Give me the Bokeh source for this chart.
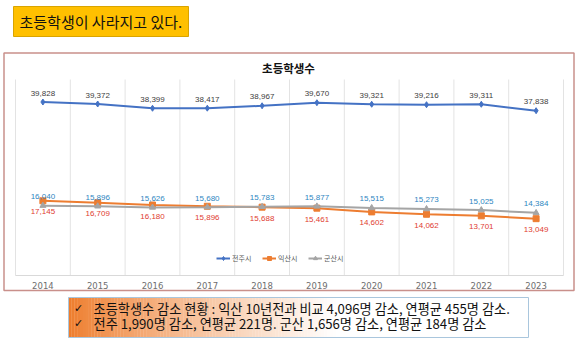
import numpy as np
from bokeh.plotting import figure
from bokeh.models import Range1d, ColumnDataSource, Legend, LegendItem
from bokeh.embed import file_html
from bokeh.resources import INLINE
from bokeh.core.properties import value

# ---------------- data ----------------
years = [2014, 2015, 2016, 2017, 2018, 2019, 2020, 2021, 2022, 2023]
jeonju = [39828, 39372, 38399, 38417, 38967, 39670, 39321, 39216, 39311, 37838]
iksan = [17145, 16709, 16180, 15896, 15688, 15461, 14602, 14062, 13701, 13049]
gunsan = [16040, 15896, 15626, 15680, 15783, 15877, 15515, 15273, 15025, 14384]
series_names = ["전주시", "익산시", "군산시"]
y_max = 45000
chart_title = "초등학생수"
headline = "초등학생이 사라지고 있다."
notes = [
    "초등학생수 감소 현황 : 익산 10년전과 비교 4,096명 감소, 연평균 455명 감소.",
    "전주 1,990명 감소, 연평균 221명. 군산 1,656명 감소, 연평균 184명 감소",
]

# ---------------- layout (page pixels) ----------------
W, H = 580, 344
PL, PR, PT, PB = 15, 563, 79, 275  # chart plot area

KR = "Noto Sans CJK KR"

p = figure(width=W, height=H, x_range=Range1d(0, W), y_range=Range1d(H, 0),
           toolbar_location=None, output_backend="svg", min_border=0,
           x_axis_type=None, y_axis_type=None)
p.outline_line_color = None
p.background_fill_color = "white"
p.border_fill_color = "white"

n = len(years)
step = (PR - PL) / n
x0 = years[0] - 0.5
p.extra_x_ranges = {"yr": Range1d(x0 - PL / step, x0 + n + (W - PR) / step)}
k = y_max / (PB - PT)
p.extra_y_ranges = {"val": Range1d(-(H - PB) * k, y_max + PT * k)}

# ---------------- headline box ----------------
p.quad(left=[13], right=[188], top=[6], bottom=[36], fill_color="#FFC000",
       line_color="#D9A400", line_width=1)
p.text(x=[19], y=[20.5], text=[headline], text_font=value(KR), text_font_size="15px",
       text_color="#111111", text_baseline="middle", text_align="left")

# ---------------- chart frame ----------------
p.quad(left=[3.5], right=[573.5], top=[52.5], bottom=[290], fill_color="white",
       line_color="#C9908B", line_width=1.5)
p.text(x=[288], y=[67], text=[chart_title], text_font=value(KR), text_font_size="11.5px",
       text_font_style="bold", text_color="#111111", text_baseline="middle", text_align="center")

bounds = [x0 + i for i in range(n + 1)]
p.segment(x0=bounds, y0=[0] * (n + 1), x1=bounds, y1=[y_max] * (n + 1),
          x_range_name="yr", y_range_name="val", line_color="#E3E3E3", line_width=1)
p.segment(x0=[bounds[0]], y0=[0], x1=[bounds[-1]], y1=[0],
          x_range_name="yr", y_range_name="val", line_color="#D9D9D9", line_width=1)

# year labels
p.text(x=years, y=[285] * n, text=[str(y) for y in years], x_range_name="yr",
       text_font=value("DejaVu Sans"), text_font_size="8.5px",
       text_color="#6E6E6E", text_align="center", text_baseline="middle")

src = ColumnDataSource(dict(
    x=years, jeonju=jeonju, iksan=iksan, gunsan=gunsan,
    lj=[f"{v:,}" for v in jeonju], li=[f"{v:,}" for v in iksan], lg=[f"{v:,}" for v in gunsan],
))

colors = ["#4472C4", "#ED7D31", "#A5A5A5"]
keys = ["jeonju", "iksan", "gunsan"]
markers = ["diamond", "square", "triangle"]
msizes = [6, 6, 6]
items = []
for name, key, c, m, ms in zip(series_names, keys, colors, markers, msizes):
    l = p.line("x", key, source=src, x_range_name="yr", y_range_name="val",
               line_color=c, line_width=2)
    s = p.scatter("x", key, source=src, x_range_name="yr", y_range_name="val",
                  marker=m, size=ms, fill_color=c, line_color=c)
    items.append(LegendItem(label=name, renderers=[l, s]))

lab = dict(x_range_name="yr", y_range_name="val", text_font=value("Liberation Sans"),
           text_font_size="8px", text_align="center", text_baseline="middle")
p.text("x", "jeonju", text="lj", source=src, y_offset=-9, text_color="#404040", **lab)
p.text("x", "gunsan", text="lg", source=src, y_offset=-9, text_color="#2E86C1", **lab)
p.text("x", "iksan", text="li", source=src, y_offset=11, text_color="#E03C31", **lab)

legend = Legend(items=items, orientation="horizontal", location=(216, H - 263),
                padding=0, margin=0, spacing=10, label_standoff=2,
                glyph_width=14, glyph_height=10, label_height=10,
                label_text_font=KR, label_text_font_size="7px", label_text_color="#595959",
                background_fill_alpha=0, border_line_color=None)
p.add_layout(legend, "center")

# ---------------- notes box ----------------
BL, BR, BT, BB = 68, 528, 297, 337
ns = 160
edges = np.linspace(BL, BR, ns + 1)
t = (edges[:-1] - BL) / (BR - BL)
f = np.clip(t / 0.58, 0, 1) ** 0.85
c0 = np.array([238, 125, 45])
cols = ["#%02x%02x%02x" % tuple(int(round(a)) for a in (c0 + (255 - c0) * fi)) for fi in f]
p.quad(left=edges[:-1], right=edges[1:] + 0.3, top=[BT] * ns, bottom=[BB] * ns,
       fill_color=cols, line_color=None)
p.quad(left=[BL], right=[BR], top=[BT], bottom=[BB], fill_color=None,
       line_color="#A9C6DD", line_width=1)
p.text(x=[78, 78], y=[307.5, 323], text=["✓", "✓"], text_font=value("DejaVu Sans"),
       text_font_size="11px", text_color="#111111", text_align="center", text_baseline="middle")
p.text(x=[93, 93], y=[307.5, 323], text=notes, text_font=value(KR), text_font_size="13.2px",
       text_color="#111111", text_align="left", text_baseline="middle")

open("out.html", "w").write(file_html(p, INLINE))
